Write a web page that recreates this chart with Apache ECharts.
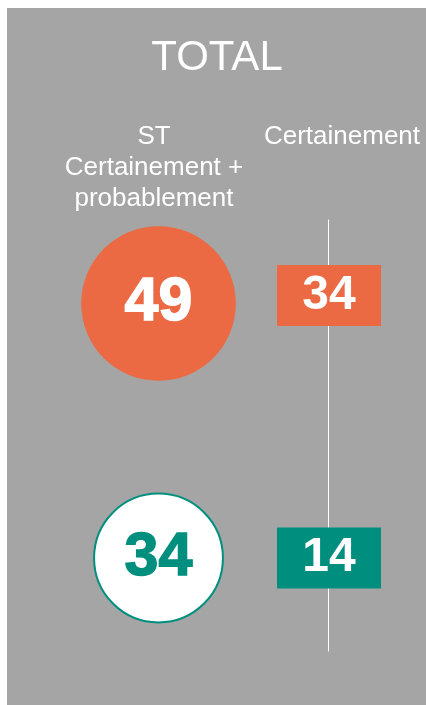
<!DOCTYPE html>
<html>
<head>
<meta charset="utf-8">
<script src="https://cdn.jsdelivr.net/npm/echarts@6/dist/echarts.min.js"></script>
<style>
  html, body { margin: 0; padding: 0; background: #fff; }
  #chart { width: 426px; height: 705px; }
</style>
</head>
<body>
<div id="chart"></div>
<script>
// colonnes (en-têtes) et lignes
const columns = ['ST\nCertainement +\nprobablement', 'Certainement']
const rows = ['haut', 'bas']
// valeurs
const stValues = [49, 34]      // cercles
const certValues = [34, 14]    // rectangles
const chartTitle = 'TOTAL'

const orange = '#EC6A43'
const green = '#008F7E'
const grey = '#A5A5A5'
const sansFont = '"Liberation Sans", Arial, sans-serif'

const chart = echarts.init(document.getElementById('chart'), null, { renderer: 'canvas' })

const circleData = rows.map((r, i) => {
  const first = i === 0
  return {
    value: [columns[0], r, stValues[i]],
    itemStyle: first
      ? { color: orange, opacity: 1 }
      : { color: '#fff', borderColor: green, borderWidth: 2, opacity: 1 },
    label: {
      color: first ? '#fff' : green,
      textBorderColor: first ? '#fff' : green
    }
  }
})

const rectData = rows.map((r, i) => ({
  value: [columns[1], r, certValues[i]],
  symbolOffset: i === 0 ? [0, -8] : [0, 0],
  itemStyle: { color: i === 0 ? orange : green, opacity: 1 }
}))

const headerStyle = { color: '#fff', fontSize: 26, lineHeight: 31, fontWeight: 'normal', fontFamily: sansFont }

const option = {
  backgroundColor: '#fff',
  animation: false,
  graphic: [{
    type: 'rect',
    z: -10,
    shape: { x: 7, y: 8, width: 419, height: 697 },
    style: { fill: grey }
  }],
  title: [
    {
      text: chartTitle,
      left: 217,
      top: 58,
      textAlign: 'center',
      textVerticalAlign: 'middle',
      padding: 0,
      textStyle: { color: '#fff', fontSize: 42, fontWeight: 'normal', fontFamily: sansFont }
    },
    {
      text: columns[0],
      left: 154,
      top: 121,
      textAlign: 'center',
      textVerticalAlign: 'top',
      padding: 0,
      textStyle: headerStyle
    },
    {
      text: columns[1],
      left: 342,
      top: 121,
      textAlign: 'center',
      textVerticalAlign: 'top',
      padding: 0,
      textStyle: headerStyle
    }
  ],
  grid: [
    { left: 73.25, right: 11.75, top: 176.25, bottom: 19.75 },
    // ligne de séparation verticale
    { left: 328, width: 1, top: 220, bottom: 54 }
  ],
  xAxis: [
    { type: 'category', data: columns, gridIndex: 0, show: false },
    { type: 'value', gridIndex: 1, show: false }
  ],
  yAxis: [
    { type: 'category', data: rows, inverse: true, gridIndex: 0, show: false },
    {
      type: 'value',
      gridIndex: 1,
      axisLine: { show: true, lineStyle: { color: '#fff', width: 1 } },
      axisTick: { show: false },
      axisLabel: { show: false },
      splitLine: { show: false }
    }
  ],
  series: [
    {
      name: 'ST Certainement + probablement',
      type: 'scatter',
      xAxisIndex: 0,
      yAxisIndex: 0,
      symbol: 'circle',
      symbolSize: (v) => Math.sqrt(v[2]) * 22.1,
      data: circleData,
      z: 3,
      emphasis: { disabled: true },
      label: {
        show: true,
        position: 'inside',
        formatter: (p) => p.value[2],
        fontSize: 61,
        fontWeight: 'bold',
        fontFamily: sansFont,
        textBorderWidth: 1.5
      }
    },
    {
      name: 'Certainement',
      type: 'scatter',
      xAxisIndex: 0,
      yAxisIndex: 0,
      symbol: 'rect',
      symbolSize: [104, 61],
      data: rectData,
      z: 3,
      emphasis: { disabled: true },
      label: {
        show: true,
        position: 'inside',
        formatter: (p) => p.value[2],
        color: '#fff',
        fontSize: 48,
        fontWeight: 'bold',
        fontFamily: sansFont
      }
    }
  ]
}

chart.setOption(option)
</script>
</body>
</html>
